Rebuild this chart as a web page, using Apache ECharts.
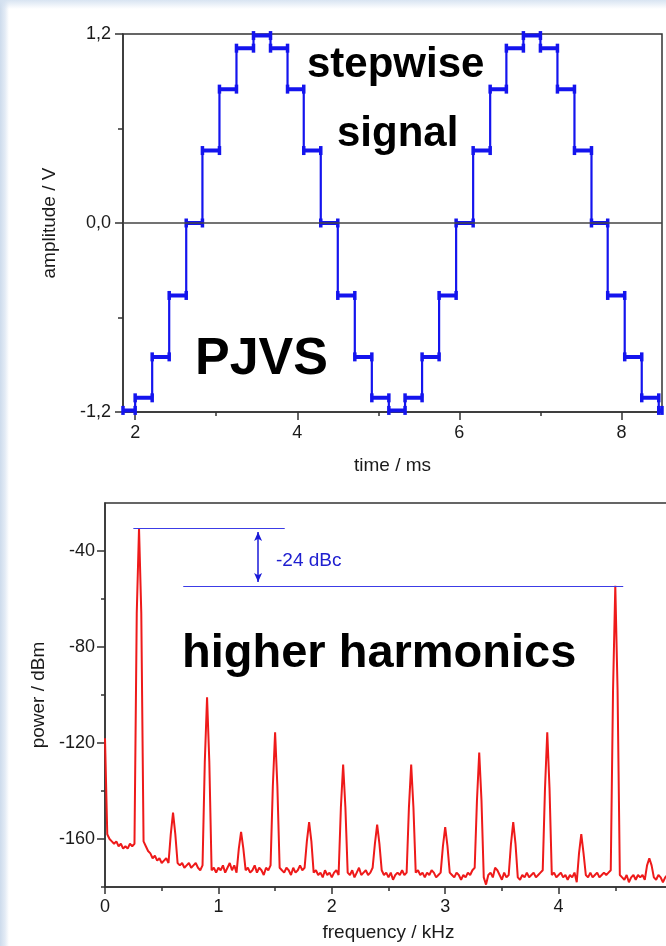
<!DOCTYPE html>
<html>
<head>
<meta charset="utf-8">
<script src="https://cdn.jsdelivr.net/npm/echarts@6/dist/echarts.min.js"></script>
<style>
  html, body { margin: 0; padding: 0; }
  body {
    width: 666px; height: 946px; overflow: hidden;
    background:
      linear-gradient(180deg, rgba(212,225,240,0.9) 0px, rgba(255,255,255,0) 9px),
      linear-gradient(90deg, #cddbec 0px, #e3ebf5 5px, #ffffff 9px);
  }
  #chart { width: 666px; height: 946px; }
</style>
</head>
<body>
<div id="chart"></div>
<script>
// ---- top panel: stepwise PJVS signal ----
// step edges (ms) and the level held between consecutive edges (V)
const stepEdgesMs = [1.85, 2.00, 2.21, 2.42, 2.63, 2.83, 3.04, 3.25, 3.46, 3.67, 3.88, 4.08,
  4.29, 4.50, 4.71, 4.92, 5.13, 5.33, 5.54, 5.75, 5.96, 6.17, 6.38, 6.58, 6.79, 7.00, 7.21,
  7.42, 7.63, 7.83, 8.04, 8.25, 8.46, 8.50];
const stepLevelsV = [-1.19, -1.11, -0.85, -0.46, 0, 0.46, 0.85, 1.11, 1.19, 1.11, 0.85, 0.46,
  0, -0.46, -0.85, -1.11, -1.19, -1.11, -0.85, -0.46, 0, 0.46, 0.85, 1.11, 1.19, 1.11, 0.85,
  0.46, 0, -0.46, -0.85, -1.11, -1.19];
const timeLabelValues = [2, 4, 6, 8];
const timeMinorTicks = [3, 5, 7];

// ---- bottom panel: spectrum, one value every 0.02 kHz from 0 kHz ----
const spectrumStepKHz = 0.02;
const spectrumDbm = [
  -118, -158, -160, -161, -162, -161, -163, -162, -164, -163,
  -164, -162, -163, -162, -66, -30.5, -66, -161, -163, -165,
  -166, -168, -167, -169, -168, -170, -169, -168, -170, -158,
  -149, -158, -170, -171, -170, -172, -171, -170, -172, -171,
  -170, -172, -173, -171, -128, -101, -128, -173, -172, -174,
  -172, -173, -171, -174, -172, -170, -173, -171, -174, -164,
  -157, -164, -173, -172, -174, -173, -171, -174, -172, -173,
  -175, -172, -173, -171, -138, -115.5, -138, -172, -173, -174,
  -172, -173, -175, -172, -174, -173, -171, -173, -172, -161,
  -153, -161, -174, -173, -175, -174, -176, -173, -175, -174,
  -176, -174, -173, -175, -147, -129, -147, -174, -175, -173,
  -176, -174, -172, -175, -174, -173, -175, -174, -172, -162,
  -154, -162, -173, -175, -174, -176, -174, -177, -175, -174,
  -175, -173, -175, -174, -147, -129, -147, -174, -173, -175,
  -174, -176, -174, -175, -173, -174, -176, -175, -174, -163,
  -155, -163, -174, -175, -176, -174, -175, -177, -175, -176,
  -174, -175, -173, -172, -144, -124, -144, -176, -179, -175,
  -174, -176, -172, -173, -175, -177, -174, -176, -175, -162,
  -153, -162, -176, -177, -175, -176, -174, -176, -175, -174,
  -176, -175, -174, -173, -139, -115.5, -139, -175, -174, -176,
  -175, -174, -176, -175, -177, -175, -176, -174, -178, -166,
  -158, -166, -175, -176, -174, -176, -175, -174, -176, -175,
  -174, -175, -174, -173, -98, -54.5, -98, -175, -176, -177,
  -175, -178, -176, -175, -177, -175, -176, -175, -177, -171,
  -168, -171, -176, -177, -175, -176, -178, -176, -175, -177,
  -176
];
const powerLabelValues = [-160, -120, -80, -40];
const powerMinorTicks = [-180, -140, -100, -60];
const carrierDbm = -30.5;   // fundamental at 0.3 kHz
const harmonicDbm = -54.5;  // 15th harmonic at 4.5 kHz

const FONT = 'Liberation Sans, Arial, sans-serif';
const AXIS = '#333';
const TXT = '#1a1a1a';

// step line: two points per held level
const stepLine = [];
const stepFlats = [];
stepLevelsV.forEach((lv, i) => {
  stepLine.push([stepEdgesMs[i], lv], [stepEdgesMs[i + 1], lv]);
  stepFlats.push([stepEdgesMs[i], lv], [stepEdgesMs[i + 1], lv], ['-', '-']);
});
const spectrum = spectrumDbm.map((p, i) => [+(i * spectrumStepKHz).toFixed(2), p]);

const labelStyle = { color: TXT, fontSize: 18, fontFamily: FONT };
const nameStyle = { color: TXT, fontSize: 19, fontFamily: FONT };
const lineStyle = { color: AXIS, width: 1.5 };

var myChart = echarts.init(document.getElementById('chart'));
var option = {
  animation: false,
  grid: [
    { left: 123, top: 34, width: 539, height: 378, outerBoundsMode: 'none',
      show: true, backgroundColor: '#fff', borderColor: AXIS, borderWidth: 1.5 },
    { left: 105, top: 503, width: 567, height: 384, outerBoundsMode: 'none',
      show: true, backgroundColor: '#fff', borderColor: AXIS, borderWidth: 1.5 }
  ],
  xAxis: [
    {
      gridIndex: 0, type: 'value', min: 1.85, max: 8.5, position: 'bottom',
      name: 'time / ms', nameLocation: 'middle', nameGap: 44, nameTextStyle: nameStyle,
      axisLine: { onZero: false, lineStyle: lineStyle },
      axisTick: { customValues: timeLabelValues, length: 8, lineStyle: lineStyle },
      axisLabel: { customValues: timeLabelValues, margin: 12, ...labelStyle },
      splitLine: { show: false }
    },
    {
      // minor ticks of the time axis
      gridIndex: 0, type: 'value', min: 1.85, max: 8.5, position: 'bottom',
      axisLine: { show: false, onZero: false },
      axisTick: { customValues: timeMinorTicks, length: 4, lineStyle: lineStyle },
      axisLabel: { show: false },
      splitLine: { show: false }
    },
    {
      gridIndex: 1, type: 'value', min: 0, max: 5, interval: 1, position: 'bottom',
      name: 'frequency / kHz', nameLocation: 'middle', nameGap: 36, nameTextStyle: nameStyle,
      axisLine: { onZero: false, lineStyle: lineStyle },
      axisTick: { length: 7, lineStyle: lineStyle },
      minorTick: { show: true, splitNumber: 2, length: 4, lineStyle: lineStyle },
      axisLabel: { margin: 11, ...labelStyle },
      splitLine: { show: false }
    }
  ],
  yAxis: [
    {
      gridIndex: 0, type: 'value', min: -1.2, max: 1.2, interval: 1.2, position: 'left',
      name: 'amplitude / V', nameLocation: 'middle', nameGap: 64, nameTextStyle: nameStyle,
      axisLine: { onZero: false, lineStyle: lineStyle },
      axisTick: { length: 8, lineStyle: lineStyle },
      minorTick: { show: true, splitNumber: 2, length: 5, lineStyle: lineStyle },
      axisLabel: { margin: 12, ...labelStyle, formatter: v => v.toFixed(1).replace('.', ',') },
      splitLine: { show: false }
    },
    {
      gridIndex: 1, type: 'value', min: -180, max: -20, position: 'left',
      name: 'power / dBm', nameLocation: 'middle', nameGap: 55, nameTextStyle: nameStyle,
      axisLine: { onZero: false, lineStyle: lineStyle },
      axisTick: { customValues: powerLabelValues, length: 8, lineStyle: lineStyle },
      axisLabel: { customValues: powerLabelValues, margin: 10, ...labelStyle },
      splitLine: { show: false }
    },
    {
      // minor ticks of the power axis
      gridIndex: 1, type: 'value', min: -180, max: -20, position: 'left',
      axisLine: { show: false, onZero: false },
      axisTick: { customValues: powerMinorTicks, length: 4, lineStyle: lineStyle },
      axisLabel: { show: false },
      splitLine: { show: false }
    }
  ],
  series: [
    {
      type: 'line', xAxisIndex: 0, yAxisIndex: 0, data: stepLine,
      lineStyle: { color: '#1414ee', width: 2.2 },
      itemStyle: { color: '#1414ee' },
      symbol: 'rect', symbolSize: [3.5, 9], showSymbol: true,
      clip: true, silent: true, z: 3,
      markLine: {
        silent: true, symbol: 'none', label: { show: false },
        lineStyle: { color: '#444', width: 1.5, type: 'solid' },
        data: [{ yAxis: 0 }]
      }
    },
    {
      // held levels drawn a bit heavier
      type: 'line', xAxisIndex: 0, yAxisIndex: 0, data: stepFlats,
      lineStyle: { color: '#1414ee', width: 4 },
      showSymbol: false, symbol: 'none', connectNulls: false,
      clip: true, silent: true, z: 4
    },
    {
      type: 'line', xAxisIndex: 2, yAxisIndex: 1, data: spectrum,
      lineStyle: { color: '#ee1a1a', width: 2 },
      showSymbol: false, symbol: 'none', clip: true, silent: true,
      markLine: {
        silent: true, symbol: 'none', label: { show: false },
        lineStyle: { color: '#3c3ce6', width: 1, type: 'solid' },
        data: [
          [{ coord: [0.25, carrierDbm] }, { coord: [1.585, carrierDbm] }],
          [{ coord: [0.69, harmonicDbm] }, { coord: [4.57, harmonicDbm] }],
          [
            { coord: [1.35, carrierDbm - 1.6], symbol: 'arrow', symbolSize: [6, 9],
              lineStyle: { color: '#1a1ad8', width: 1.5 } },
            { coord: [1.35, harmonicDbm + 1.6], symbol: 'arrow', symbolSize: [6, 9] }
          ]
        ]
      }
    }
  ],
  graphic: [
    { type: 'text', left: 307, top: 44, style: { text: 'stepwise', fill: '#000', font: 'bold 42px ' + FONT } },
    { type: 'text', left: 337, top: 113, style: { text: 'signal', fill: '#000', font: 'bold 42px ' + FONT } },
    { type: 'text', left: 195, top: 334, style: { text: 'PJVS', fill: '#000', font: 'bold 52px ' + FONT } },
    { type: 'text', left: 182, top: 631, style: { text: 'higher harmonics', fill: '#000', font: 'bold 47px ' + FONT } },
    { type: 'text', left: 276, top: 551, style: { text: '-24 dBc', fill: '#2020d0', font: '19px ' + FONT } }
  ]
};
myChart.setOption(option);
</script>
</body>
</html>
